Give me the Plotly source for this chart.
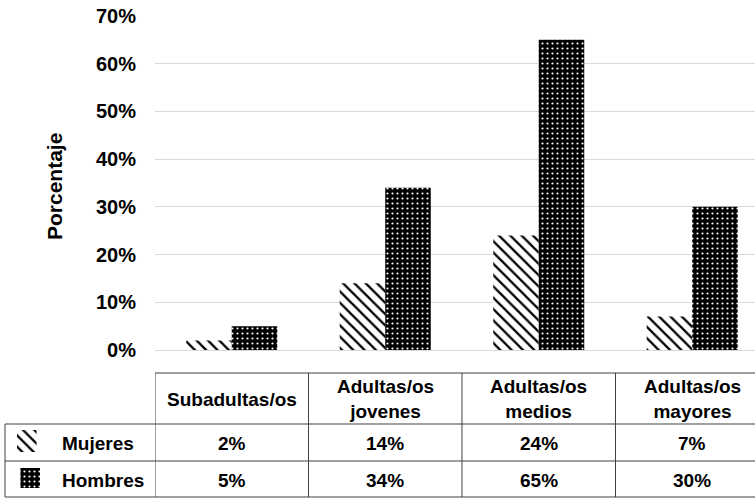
import plotly.graph_objects as go

# Data
categories = ["Subadultas/os", "Adultas/os<br>jovenes", "Adultas/os<br>medios", "Adultas/os<br>mayores"]
series_names = ["Mujeres", "Hombres"]
mujeres = [2, 14, 24, 7]
hombres = [5, 34, 65, 30]
y_ticks = [0, 10, 20, 30, 40, 50, 60, 70]

W, H = 755, 498
FONT = "Liberation Sans, Arial, sans-serif"


def px(x):
    return x / W


def py(y):
    return 1 - y / H


hatch_w = dict(shape="\\", fgcolor="black", bgcolor="white", size=8, solidity=0.28, fillmode="replace")
dots_h = dict(shape=".", fgcolor="white", bgcolor="black", size=5, solidity=0.15, fillmode="replace")

xs = list(range(len(categories)))

fig = go.Figure()
fig.add_trace(go.Bar(x=xs, y=mujeres, name=series_names[0],
                     marker=dict(color="white", pattern=hatch_w, line=dict(width=0))))
fig.add_trace(go.Bar(x=xs, y=hombres, name=series_names[1],
                     marker=dict(color="black", pattern=dots_h, line=dict(width=0))))

# legend keys inside the data table
fig.add_trace(go.Bar(x=[0], y=[22], base=[430], width=[1], xaxis="x2", yaxis="y2",
                     marker=dict(color="white", pattern=hatch_w, line=dict(width=0)),
                     showlegend=False, hoverinfo="skip"))
fig.add_trace(go.Bar(x=[0], y=[20], base=[468], width=[1], xaxis="x2", yaxis="y2",
                     marker=dict(color="black", pattern=dots_h, line=dict(width=0)),
                     showlegend=False, hoverinfo="skip"))

fig.update_layout(
    width=W, height=H,
    margin=dict(l=0, r=0, t=0, b=0, pad=0, autoexpand=False),
    paper_bgcolor="white", plot_bgcolor="white",
    barmode="group", bargap=0.407, bargroupgap=0,
    showlegend=False,
    font=dict(family=FONT, color="black", size=18, weight="bold"),
    xaxis=dict(domain=[px(155), 1], range=[-0.5, 3.409], showticklabels=False,
               showgrid=False, zeroline=False, showline=False, ticks="", automargin=False),
    yaxis=dict(domain=[py(350), py(16)], range=[0, 70], tickvals=y_ticks,
               ticktext=[f"{v}%" for v in y_ticks], showgrid=True, gridcolor="#d9d9d9",
               gridwidth=1, zeroline=True, zerolinecolor="#d9d9d9", zerolinewidth=1,
               showline=False, ticks="", ticklabelstandoff=18, automargin=False,
               tickfont=dict(family=FONT, size=20, color="black", weight="bold")),
    xaxis2=dict(domain=[px(17), px(40)], range=[-0.5, 0.5], anchor="y2", visible=False,
                automargin=False),
    yaxis2=dict(domain=[py(497), py(424)], range=[497, 424], anchor="x2", visible=False,
                automargin=False),
)

# Axis title
fig.add_annotation(text="Porcentaje", x=px(54), y=py(187), xref="paper", yref="paper",
                   xanchor="center", yanchor="middle", textangle=-90, showarrow=False,
                   font=dict(family=FONT, size=21, color="black", weight="bold"))

# Data table grid
line = dict(color="#404040", width=1)
for yy, x0 in [(373, 155), (424, 5), (461, 5), (497, 5)]:
    fig.add_shape(type="line", xref="paper", yref="paper", x0=px(x0), x1=1,
                  y0=py(yy), y1=py(yy), line=line)
fig.add_shape(type="line", xref="paper", yref="paper", x0=px(5), x1=px(5),
              y0=py(424), y1=py(497), line=line)
for b in [-0.5, 0.5, 1.5, 2.5]:
    fig.add_shape(type="line", xref="x", yref="paper", x0=b, x1=b,
                  y0=py(373), y1=py(497), line=line)

# Table text
tfont = dict(family=FONT, size=19, color="black", weight="bold")
for i, c in enumerate(categories):
    fig.add_annotation(text=c, x=i, y=py(399), xref="x", yref="paper", showarrow=False,
                       font=tfont, yanchor="middle")
    fig.add_annotation(text=f"{mujeres[i]}%", x=i, y=py(443), xref="x", yref="paper",
                       showarrow=False, font=tfont, yanchor="middle")
    fig.add_annotation(text=f"{hombres[i]}%", x=i, y=py(480), xref="x", yref="paper",
                       showarrow=False, font=tfont, yanchor="middle")
for name, yy in zip(series_names, [443, 480]):
    fig.add_annotation(text=name, x=px(60), y=py(yy), xref="paper", yref="paper",
                       showarrow=False, font=tfont, xanchor="left", yanchor="middle")

fig.write_html("out.html")
